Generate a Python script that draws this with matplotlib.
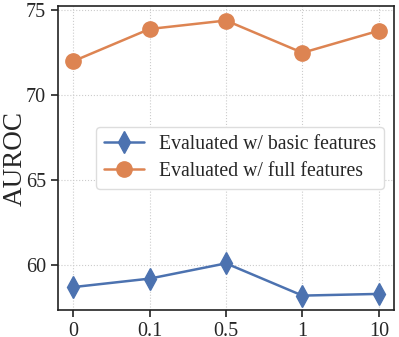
import matplotlib
matplotlib.use("Agg")
import matplotlib.pyplot as plt
import seaborn as sns

x_labels = ["0", "0.1", "0.5", "1", "10"]
basic_auroc = [58.7, 59.2, 60.1, 58.2, 58.3]
full_auroc = [72.0, 73.9, 74.4, 72.5, 73.8]

sns.set_style("ticks")
plt.rcParams['font.family'] = ['Liberation Serif', 'DejaVu Serif']
plt.rcParams['mathtext.fontset'] = 'stix'

blue, orange = sns.color_palette("deep")[0], sns.color_palette("deep")[1]

fig, ax = plt.subplots(figsize=(3.99, 3.37), dpi=100)
pos = list(range(len(x_labels)))
ax.plot(pos, basic_auroc, marker='d', markersize=11, color=blue, linewidth=1.8,
        label="Evaluated w/ basic features")
ax.plot(pos, full_auroc, marker='o', markersize=11, color=orange, linewidth=1.8,
        label="Evaluated w/ full features")

ax.set_xticks(pos)
ax.set_xticklabels(x_labels)
ax.set_xlim(-0.2, 4.2)
ax.set_ylim(57.35, 75.25)
ax.set_yticks([60, 65, 70, 75])
ax.tick_params(labelsize=14.5, direction='out', length=5, width=1.2, color='#222222')
ax.grid(True, linestyle=':', color='#cccccc', linewidth=0.8)
for s in ax.spines.values():
    s.set_color('#222222')
    s.set_linewidth(1.2)
ax.set_ylabel("AUROC", fontsize=19.5, va='center')
ax.yaxis.set_label_coords(-0.128, 0.5)
ax.legend(fontsize=14.2, loc='center right', bbox_to_anchor=(1.0, 0.5),
          handlelength=2.0, borderpad=0.4, labelspacing=0.4, framealpha=1,
          edgecolor='#dddddd')

plt.subplots_adjust(left=0.145, right=0.988, top=0.982, bottom=0.08)
plt.savefig("out.png", dpi=100)
